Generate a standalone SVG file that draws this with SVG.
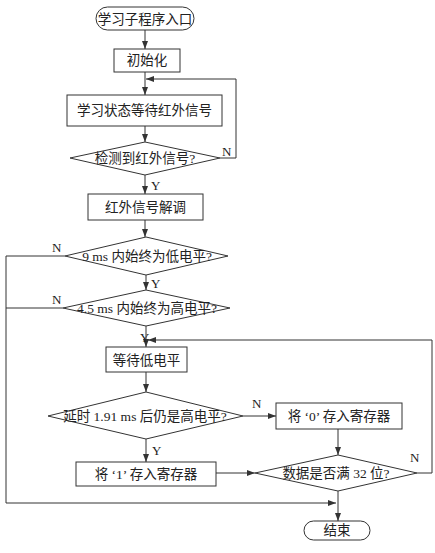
<svg xmlns="http://www.w3.org/2000/svg" width="435" height="553" viewBox="0 0 435 553">
<style>
.s{fill:#fff;stroke:#333;stroke-width:1}
.l{fill:none;stroke:#333;stroke-width:1}
.t{font-family:"Liberation Serif","Noto Sans CJK SC",serif;font-size:13.5px;fill:#222;text-anchor:middle}
.y{font-family:"Liberation Serif",serif;font-size:13px;fill:#222}
</style>
<defs>
<marker id="a" viewBox="0 0 8 6" refX="8" refY="3" markerWidth="8" markerHeight="6" markerUnits="userSpaceOnUse" orient="auto">
<path d="M0,0 L8,3 L0,6 z" fill="#333"/>
</marker>
</defs>
<rect width="435" height="553" fill="#fff"/>
<g id="connectors">
<line class="l" x1="145" y1="30" x2="145" y2="49" marker-end="url(#a)"/>
<line class="l" x1="145" y1="72" x2="145" y2="95" marker-end="url(#a)"/>
<polyline class="l" points="220,158 236,158 236,79 146,79" marker-end="url(#a)"/>
<line class="l" x1="145" y1="126" x2="145" y2="142" marker-end="url(#a)"/>
<line class="l" x1="145" y1="175" x2="145" y2="194" marker-end="url(#a)"/>
<line class="l" x1="145" y1="220" x2="145" y2="237" marker-end="url(#a)"/>
<line class="l" x1="146" y1="275" x2="146" y2="290" marker-end="url(#a)"/>
<polyline class="l" points="65,256 6,256 6,503 336,503" marker-end="url(#a)"/>
<line class="l" x1="63" y1="308" x2="6" y2="308"/>
<line class="l" x1="146" y1="326" x2="146" y2="347" marker-end="url(#a)"/>
<polyline class="l" points="417,473 432,473 432,340 148,340" marker-end="url(#a)"/>
<line class="l" x1="146" y1="372" x2="146" y2="392" marker-end="url(#a)"/>
<line class="l" x1="243" y1="416" x2="276" y2="416" marker-end="url(#a)"/>
<line class="l" x1="146" y1="439" x2="146" y2="462" marker-end="url(#a)"/>
<line class="l" x1="216" y1="473" x2="255" y2="473" marker-end="url(#a)"/>
<line class="l" x1="338" y1="429" x2="338" y2="455" marker-end="url(#a)"/>
<line class="l" x1="338" y1="491" x2="338" y2="521" marker-end="url(#a)"/>
<text class="y" x="222" y="156">N</text>
<text class="y" x="151" y="190">Y</text>
<text class="y" x="52" y="252">N</text>
<text class="y" x="151" y="288">Y</text>
<text class="y" x="52" y="304">N</text>
<text class="y" x="140" y="342">Y</text>
<text class="y" x="252" y="408">N</text>
<text class="y" x="152" y="455">Y</text>
<text class="y" x="410" y="462">N</text>
</g>
<g id="start">
<rect class="s" x="96" y="7" width="98" height="23" rx="11.5"/>
<text class="t" x="145" y="23.5">学习子程序入口</text>
</g>
<g id="init">
<rect class="s" x="114" y="49" width="66" height="23"/>
<text class="t" x="147" y="65">初始化</text>
</g>
<g id="wait-ir">
<rect class="s" x="67" y="95" width="155" height="31"/>
<text class="t" x="144.5" y="115">学习状态等待红外信号</text>
</g>
<g id="detect">
<polygon class="s" points="70,158 145,142 220,158 145,175"/>
<text class="t" x="145" y="163">检测到红外信号?</text>
</g>
<g id="decode">
<rect class="s" x="88" y="194" width="115" height="26"/>
<text class="t" x="145.5" y="212">红外信号解调</text>
</g>
<g id="d9ms">
<polygon class="s" points="65,256 146,237 228,256 146,275"/>
<text class="t" x="147" y="261">9 ms 内始终为低电平?</text>
</g>
<g id="d45ms">
<polygon class="s" points="63,308 146,290 230,308 146,326"/>
<text class="t" x="147" y="313">4.5 ms 内始终为高电平?</text>
</g>
<g id="wait-low">
<rect class="s" x="106" y="347" width="81" height="25"/>
<text class="t" x="146.5" y="364.5">等待低电平</text>
</g>
<g id="delay">
<polygon class="s" points="48,416 146,392 243,416 146,439"/>
<text class="t" x="145" y="421">延时 1.91 ms 后仍是高电平?</text>
</g>
<g id="store0">
<rect class="s" x="276" y="403" width="126" height="26"/>
<text class="t" x="339" y="421" xml:space="preserve">将 ‘0’ 存入寄存器</text>
</g>
<g id="store1">
<rect class="s" x="76" y="462" width="140" height="24"/>
<text class="t" x="146" y="478.5" xml:space="preserve">将 ‘1’ 存入寄存器</text>
</g>
<g id="full32">
<polygon class="s" points="255,473 338,455 417,473 338,491"/>
<text class="t" x="336" y="478">数据是否满 32 位?</text>
</g>
<g id="end">
<rect class="s" x="304" y="521" width="66" height="19" rx="9.5"/>
<text class="t" x="337" y="535">结束</text>
</g>
</svg>
